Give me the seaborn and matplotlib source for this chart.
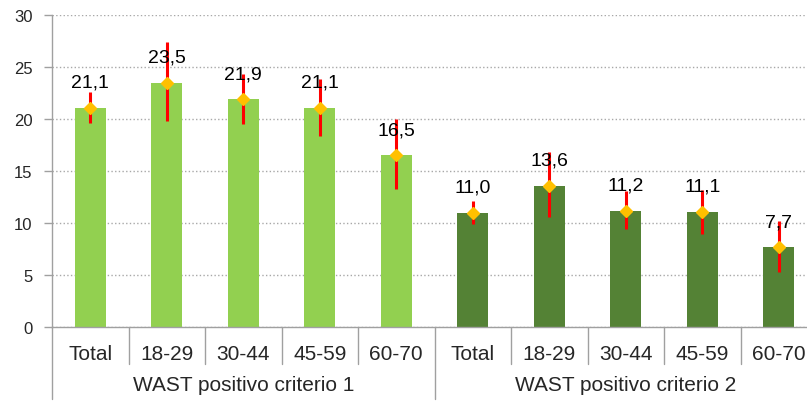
import pandas as pd
import matplotlib.pyplot as plt
import matplotlib.transforms as mtransforms
import seaborn as sns

# data
groups = ["WAST positivo criterio 1", "WAST positivo criterio 2"]
ages = ["Total", "18-29", "30-44", "45-59", "60-70"]
values_c1 = [21.1, 23.5, 21.9, 21.1, 16.5]
values_c2 = [11.0, 13.6, 11.2, 11.1, 7.7]
low_c1 = [19.6, 19.8, 19.5, 18.4, 13.3]
high_c1 = [22.6, 27.4, 24.3, 23.8, 20.0]
low_c2 = [9.9, 10.6, 9.4, 8.9, 5.3]
high_c2 = [12.1, 16.8, 13.1, 13.2, 10.2]

sns.set_theme(style="white")
plt.rcParams['font.family'] = ['Liberation Sans', 'DejaVu Sans']

rows = []
for g, vals, lo, hi in [(groups[0], values_c1, low_c1, high_c1),
                        (groups[1], values_c2, low_c2, high_c2)]:
    for a, v, l, h in zip(ages, vals, lo, hi):
        rows.append({'slot': g + '|' + a, 'group': g, 'age': a,
                     'value': v, 'low': l, 'high': h})
df = pd.DataFrame(rows)

fig = plt.figure(figsize=(8.07, 4.06), dpi=100)
ax = fig.add_axes([52 / 807, 78 / 406, 765 / 807, 312 / 406])

sns.barplot(data=df, x='slot', y='value', hue='group',
            palette=['#92D050', '#548235'], saturation=1, width=0.4,
            dodge=False, legend=False, edgecolor='none', ax=ax)

pos = list(range(len(df)))
ax.errorbar(pos, df['value'],
            yerr=[df['value'] - df['low'], df['high'] - df['value']],
            fmt='D', color='#FFC000', markersize=6, ecolor='#FF0000',
            elinewidth=2.2, capsize=0, zorder=3)

# value labels with comma decimals
for x, v in zip(pos, df['value']):
    ax.annotate(f"{v:.1f}".replace('.', ','), (x, v), xytext=(0, 12),
                textcoords='offset points', ha='center', va='bottom',
                fontsize=14, color='black', zorder=4)

ax.set_xlim(-0.5, len(df) - 0.5)
ax.set_ylim(0, 30)
ax.set_yticks(range(0, 31, 5))
ax.set_xticks(pos)
ax.set_xticklabels(df['age'], fontsize=15)
ax.tick_params(axis='x', length=0, pad=12)
ax.tick_params(axis='y', length=6, width=1, color='#a0a0a0', pad=8,
               labelsize=12, left=True)
ax.set_xlabel('')
ax.set_ylabel('')
ax.yaxis.grid(True, linestyle=':', color='#a8a8a8', linewidth=1)
ax.set_axisbelow(True)
for side in ['top', 'right']:
    ax.spines[side].set_visible(False)
for side in ['left', 'bottom']:
    ax.spines[side].set_color('#a0a0a0')
    ax.spines[side].set_linewidth(1)

# category separators and group labels below the axis
trans = mtransforms.blended_transform_factory(ax.transData, ax.transAxes)
n = len(ages)
for i in range(len(df) + 1):
    b = i - 0.5
    depth = -0.23 if i % n == 0 else -0.119
    ax.plot([b, b], [0, depth], transform=trans, color='#a0a0a0',
            linewidth=1, clip_on=False)
for k, g in enumerate(groups):
    ax.text(k * n + (n - 1) / 2, -0.185, g, transform=trans, ha='center',
            va='center', fontsize=15)

fig.savefig('out.png', dpi=100)
